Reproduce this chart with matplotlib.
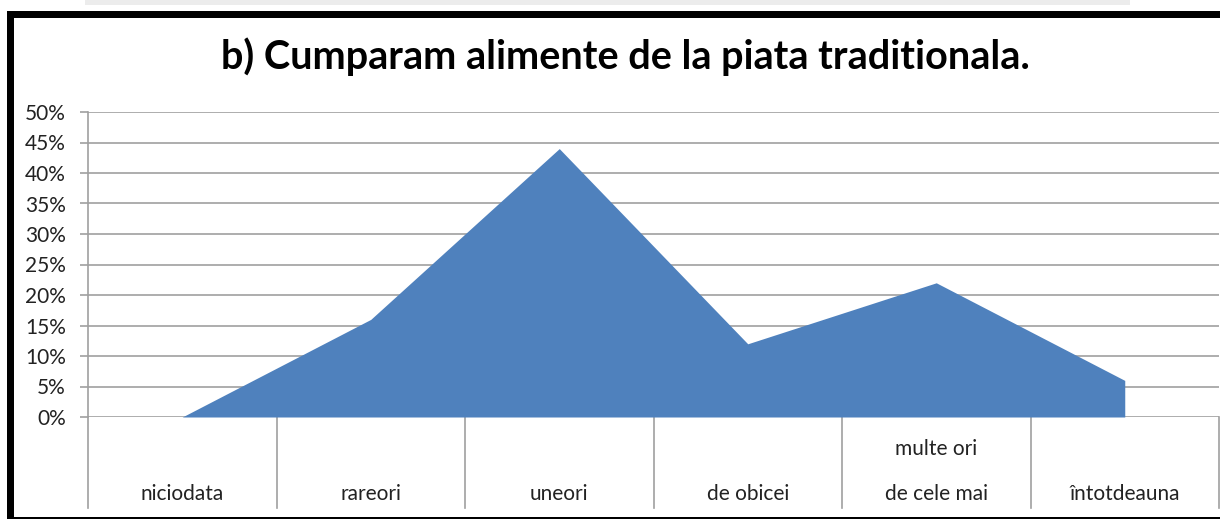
import matplotlib
matplotlib.use("Agg")
import matplotlib.pyplot as plt
from matplotlib.lines import Line2D
from matplotlib.patches import Rectangle
import matplotlib.transforms as mtransforms

plt.rcParams['font.family'] = ['Lato', 'DejaVu Sans']

title = "b) Cumparam alimente de la piata traditionala."
categories = ["niciodata", "rareori", "uneori", "de obicei", "multe ori\nde cele mai", "întotdeauna"]
values = [0, 16, 44, 12, 22, 6]
yticks = [0, 5, 10, 15, 20, 25, 30, 35, 40, 45, 50]
ytick_labels = [f"{v}%" for v in yticks]

W, H = 1220, 520
fig = plt.figure(figsize=(W / 100, H / 100), dpi=100)
fig.patch.set_facecolor("white")

def fx(px):
    return px / W

def fy(py):
    return 1 - py / H

# top grey strip (window edge)
fig.patches.append(Rectangle((fx(85), fy(5)), fx(1130 - 85), 5 / H, transform=fig.transFigure,
                             facecolor="#ececec", edgecolor="none", zorder=0))
# black frame
fig.patches.append(Rectangle((fx(7), fy(519)), fx(7), (519 - 11) / H, transform=fig.transFigure,
                             facecolor="black", edgecolor="none", zorder=5))
fig.patches.append(Rectangle((fx(7), fy(18)), fx(W - 7), 7 / H, transform=fig.transFigure,
                             facecolor="black", edgecolor="none", zorder=5))
fig.patches.append(Rectangle((fx(7), fy(519)), fx(W - 7), 2 / H, transform=fig.transFigure,
                             facecolor="black", edgecolor="none", zorder=5))

left, right, top, bottom = 88, 1219, 112, 417
ax = fig.add_axes([fx(left), fy(bottom), fx(right - left), (bottom - top) / H])
ax.set_facecolor("none")

x = list(range(len(values)))
ax.fill_between(x, values, 0, color="#4F81BD", linewidth=0, zorder=3)

ax.set_xlim(-0.5, len(values) - 0.5)
ax.set_ylim(0, 50)
ax.set_yticks(yticks)
ax.set_yticklabels(ytick_labels, fontsize=15, color="#222222")
for yv in yticks:
    ax.axhline(yv, color="#a0a0a0", lw=1.2, zorder=1)

for s in ["top", "right", "bottom"]:
    ax.spines[s].set_visible(False)
ax.spines["left"].set_color("#a0a0a0")
ax.spines["left"].set_linewidth(1.2)
ax.tick_params(axis="y", length=6, width=1.2, color="#a0a0a0", pad=10)
ax.tick_params(axis="x", length=0)
ax.set_xticks([])

trans = mtransforms.blended_transform_factory(ax.transData, ax.transAxes)
span = bottom - top
sep_bottom = -(508 - bottom) / span
for b in [i - 0.5 for i in range(len(values) + 1)]:
    ax.add_line(Line2D([b, b], [0, sep_bottom], transform=trans, color="#a0a0a0", lw=1.2,
                       clip_on=False))

for i, lab in enumerate(categories):
    lines = lab.split("\n")[::-1]
    for k, line in enumerate(lines):
        ly = -(500 - 45 * k - bottom) / span
        ax.text(i, ly, line, transform=trans, ha="center", va="baseline", fontsize=15,
                color="#222222", clip_on=False)

fig.text(fx(625), fy(57), title, ha="center", va="center", fontsize=28.5, fontweight="bold",
         color="black")

fig.savefig("out.png", dpi=100, facecolor="white")
